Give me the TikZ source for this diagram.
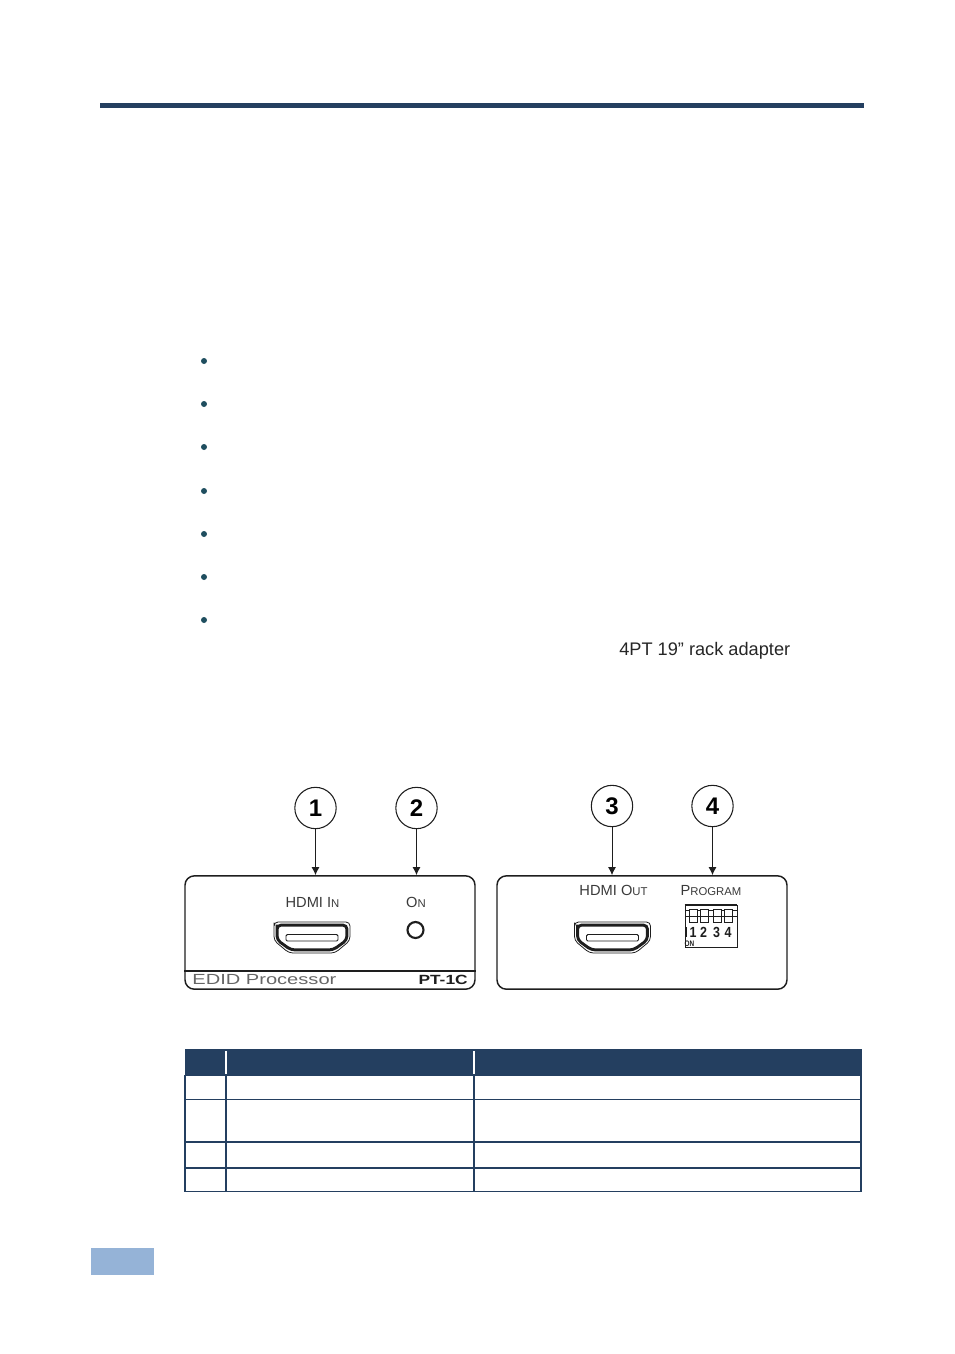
\documentclass[tikz,border=0pt]{standalone}
\usepackage{fontspec}
\setmainfont{Liberation Sans}
\usepackage{xcolor}
\usetikzlibrary{calc, positioning, arrows.meta}
\definecolor{tablenavy}{HTML}{243F60}
\definecolor{bulletteal}{HTML}{1F4E5F}
\definecolor{footerblue}{HTML}{95B3D7}
\definecolor{panelink}{HTML}{1E1E1E}
\definecolor{labelgrey}{HTML}{3A3A3A}
\newcommand{\hdmioutline}{(-38,-11) -- (-38,-15.5) -- (38,-15.5) -- (38,3) -- (23,15.5) -- (-23,15.5) -- (-38,3) -- cycle}
\tikzset{
    callout/.style={draw=panelink, circle, line width=0.8pt, minimum size=31pt, inner sep=0pt, font=\fontsize{18}{18}\selectfont\bfseries},
    panelbox/.style={draw=panelink, rounded corners=7pt, line width=1.1pt, minimum width=217.5pt, minimum height=85pt, inner sep=0pt},
    pointer/.style={-{Latex[length=6pt,width=6pt]}, draw=panelink, line width=0.7pt},
    panellabel/.style={text=labelgrey, inner sep=0pt, font=\fontsize{11}{11}\selectfont},
    bulletdot/.style={circle, fill=bulletteal, minimum size=4.5pt, inner sep=0pt},
    tablerule/.style={draw=tablenavy, line width=#1},
    pics/hdmiport/.style={code={
        \draw[panelink, line width=0.6pt, rounded corners=3pt] \hdmioutline;
        \draw[panelink, line width=2.2pt, rounded corners=3pt, xscale=0.92, yscale=0.8] \hdmioutline;
        \draw[panelink, line width=0.7pt, rounded corners=1pt] (-26,-3) rectangle (26,3.5);
    }}
}
\begin{document}
\begin{tikzpicture}[x=0.75pt, y=-0.75pt]
    \useasboundingbox (0,0) rectangle (954,1354);
    % Top rule and footer block
    \fill[tablenavy] (100,103) rectangle (864,108);
    \fill[footerblue] (91,1248) rectangle (154,1275);
    % Bullets
    \foreach \i/\y in {1/361,2/404,3/447,4/491,5/534,6/577,7/620} {
        \node[bulletdot] (dot\i) at (204,\y) {};
    }
    \node[anchor=west, inner sep=0pt, font=\fontsize{13.65}{13.65}\selectfont, text=black!85] (rackline) at (619,651) {4PT 19” rack adapter};
    % Two panels
    \node[panelbox] (leftpanel) at (330,932.5) {};
    \node[panelbox] (rightpanel) at (642,932.5) {};
    % Callouts and arrows
    \foreach \i/\x/\y/\p in {1/315.5/808/leftpanel,2/416.5/808/leftpanel,3/612/806/rightpanel,4/712.5/806/rightpanel} {
        \node[callout] (num\i) at (\x,\y) {\i};
        \draw[pointer] (num\i) -- (num\i |- \p.north);
    }
    % Left panel content
    \node[panellabel] (hdmiin) at (312.5,902.5) {HDMI I{\fontsize{8.5}{8.5}\selectfont N}};
    \node[panellabel] (onlabel) at (416,902.5) {O{\fontsize{8.5}{8.5}\selectfont N}};
    \pic at (312,937.5) {hdmiport};
    \node[circle, draw=panelink, line width=1.6pt, minimum size=12pt, inner sep=0pt] (onled) at (415.5,930) {};
    \draw[panelink, line width=1.6pt] (leftpanel.west |- 0,971) coordinate (barl) -- (barl -| leftpanel.east);
    \node[anchor=west, inner sep=0pt, xscale=1.37, text=black!60, font=\fontsize{11}{11}\selectfont] (edidname) at (192,980) {EDID Processor};
    \node[anchor=east, inner sep=0pt, xscale=1.3, text=panelink, font=\fontsize{10}{10}\selectfont\bfseries] (modelname) at (468,980) {PT-1C};
    % Right panel content
    \node[panellabel] (hdmiout) at (613.5,890.5) {HDMI O{\fontsize{8.5}{8.5}\selectfont UT}};
    \node[panellabel] (proglabel) at (711,890.5) {P{\fontsize{8.5}{8.5}\selectfont ROGRAM}};
    \pic at (612.5,937.5) {hdmiport};
    % DIP switch
    \node[draw=panelink, line width=0.7pt, minimum width=39pt, minimum height=31.5pt, inner sep=0pt] (dipbody) at (711,926) {};
    \draw[panelink, line width=1.2pt] (dipbody.north west) -- (dipbody.north east);
    \draw[panelink, line width=0.4pt] (685,910) -- (737,910);
    \draw[panelink, line width=0.4pt] (685,916) -- (737,916);
    \foreach \i/\x/\t in {1/693.5/1,2/704/2,3/717/3,4/728.5/4} {
        \draw[panelink, line width=0.7pt, fill=white] (\x-4,909.5) rectangle (\x+4,922.5);
        \draw[panelink, line width=0.7pt] (\x-4,916) -- (\x+4,916);
        \node[inner sep=0pt, xscale=0.85, text=panelink, font=\fontsize{11}{11}\selectfont\bfseries] (dipnum\i) at (\x-0.5,932) {\t};
    }
    \node[inner sep=0pt, xscale=0.8, text=panelink, font=\fontsize{6}{6}\selectfont\bfseries] (diplabel) at (689.5,943.5) {ON};
    \fill[panelink] (685.5,927) rectangle (687,937);
    % Table
    \fill[tablenavy] (184.5,1049) rectangle (861.5,1075.5);
    \draw[tablerule=0.9pt] (185,1075) -- (185,1191.5) -- (861,1191.5) -- (861,1075);
    \draw[tablerule=0.75pt] (185,1099.5) -- (861,1099.5);
    \foreach \y in {1141.5,1167.5} {
        \draw[tablerule=1.5pt] (185,\y) -- (861,\y);
    }
    \foreach \x in {226,474} {
        \draw[tablerule=1.4pt] (\x,1075) -- (\x,1192);
        \draw[white, line width=1.4pt] (\x,1051) -- (\x,1074);
    }
\end{tikzpicture}
\end{document}
